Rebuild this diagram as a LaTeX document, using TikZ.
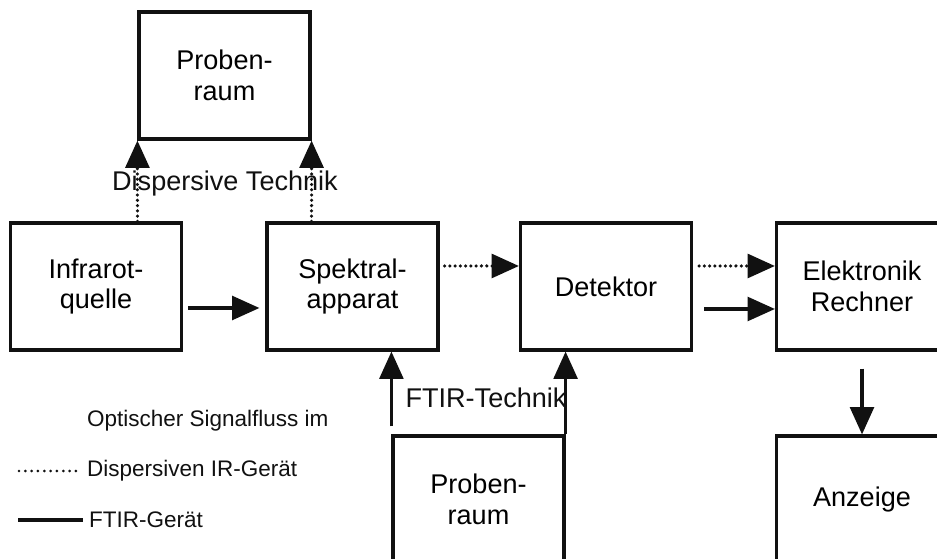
\documentclass[tikz,border=0pt]{standalone}
\usepackage{fontspec}
\setmainfont{Liberation Sans}
\usetikzlibrary{arrows.meta,calc}
\definecolor{schwarz}{HTML}{111111}

\begin{document}
\begin{tikzpicture}[>={Triangle[length=15.5pt,width=13.5pt]}, line join=miter,
    block/.style={draw=schwarz, line width=1.8pt, minimum width=3.42cm, minimum height=2.54cm,
                  inner sep=0pt, align=center, font=\fontsize{15.4}{17.5}\selectfont},
    ftir/.style={->, schwarz, line width=1.8pt},
    disp/.style={->, schwarz, line width=2pt, line cap=round, dash pattern=on 0pt off 3pt},
    beschr/.style={schwarz, font=\fontsize{15.4}{17.5}\selectfont},
    legende/.style={schwarz, anchor=west, font=\fontsize{12.8}{15}\selectfont}]
  \fill[white] (0,0) rectangle (18.74,11.18);
  \useasboundingbox (0,0) rectangle (18.74,11.18);
  \clip (0,0) rectangle (18.74,11.18);

  % Bloecke
  \node[block] (probenoben)  at (4.49,9.67)  {Proben-\\raum};
  \node[block] (quelle)      at (1.92,5.45)  {Infrarot-\\quelle};
  \node[block] (spektral)    at (7.05,5.45)  {Spektral-\\apparat};
  \node[block] (detektor)    at (12.12,5.45) {Detektor};
  \node[block] (elektronik)  at (17.24,5.45) {Elektronik\\Rechner};
  \node[block] (anzeige)     at (17.24,1.19) {Anzeige};
  \node[block] (probenunten) at (9.57,1.19)  {Proben-\\raum};

  % Beschriftungen
  \node[beschr] (dispersiv) at (4.5,7.5)   {Dispersive Technik};
  \node[beschr] (ftirtext)  at (9.72,3.22) {FTIR-Technik};

  % Signalfluss dispersiv
  \draw[disp] (probenoben.south west |- quelle.north) -- (probenoben.south west);
  \draw[disp] (probenoben.south east |- spektral.north) -- (probenoben.south east);
  \draw[disp] ($(spektral.east)+(0.1,0.41)$) -- ($(detektor.west)+(0,0.41)$);
  \draw[disp] ($(detektor.east)+(0.12,0.41)$) -- ($(elektronik.west)+(0,0.41)$);

  % Signalfluss FTIR
  \draw[ftir] ($(quelle.east)+(0.1,-0.43)$) -- ($(spektral.west)+(-0.12,-0.43)$);
  \draw[ftir] ($(probenunten.north west)+(0,0.16)$) -- (probenunten.north west |- spektral.south);
  \draw[ftir] (probenunten.north east) -- (probenunten.north east |- detektor.south);
  \draw[ftir] ($(detektor.east)+(0.22,-0.45)$) -- ($(elektronik.west)+(0,-0.45)$);
  \draw[ftir] ($(elektronik.south)+(0,-0.34)$) -- (anzeige.north);

  % Legende
  \node[legende] (legtitel) at (1.62,2.76) {Optischer Signalfluss im};
  \node[legende] (legdisp)  at (1.62,1.76) {Dispersiven IR-Gerät};
  \node[legende] (legftir)  at (1.66,0.78) {FTIR-Gerät};
  \coordinate (ld) at (0.38,1.76);
  \coordinate (lf) at (0.36,0.78);
  \draw[schwarz, line width=1.7pt, line cap=round, dash pattern=on 0pt off 3.6pt] (ld) -- (legdisp.west);
  \draw[schwarz, line width=1.8pt] (lf) -- (legftir.west);
\end{tikzpicture}
\end{document}
